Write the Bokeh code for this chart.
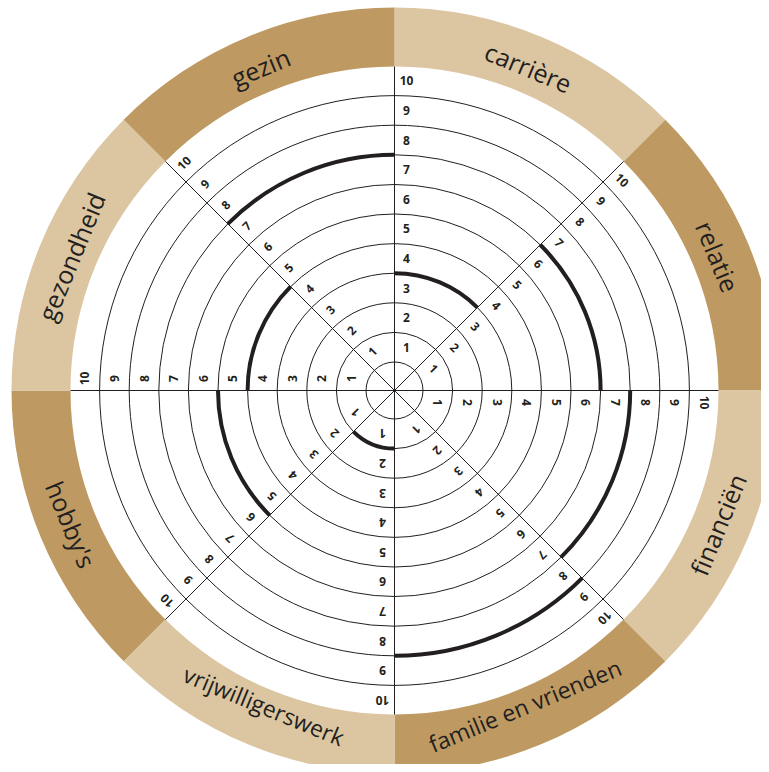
import numpy as np
from bokeh.plotting import figure
from bokeh.models import ColumnDataSource, Range1d
from bokeh.core.properties import value
from bokeh.embed import file_html
from bokeh.resources import INLINE

# ---- data ----
categories = ["carrière", "relatie", "financiën", "familie en vrienden",
              "vrijwilligerswerk", "hobby's", "gezondheid", "gezin"]
# sector start angles (degrees, counter-clockwise from +x), each sector spans 45 degrees
sector_start = [45, 0, -45, -90, -135, -180, 135, 90]
scores = [3, 6, 7, 8, 1, 5, 4, 7]
band_colors = ["#DCC6A2", "#BE9A62", "#DCC6A2", "#BE9A62",
               "#DCC6A2", "#BE9A62", "#DCC6A2", "#BE9A62"]
scale_labels = ["1", "2", "3", "4", "5", "6", "7", "8", "9", "10"]
axis_angles = [0, 45, 90, 135, 180, 225, 270, 315]

# ---- geometry ----
R0 = 28.5      # innermost circle
STEP = 29.6    # ring width
R_IN = 324     # inner radius of coloured band
R_OUT = 383    # outer radius of coloured band
INK = "#231F20"
CX, CY = 394, 390   # centre in picture pixels

W, H = 761, 764
p = figure(width=W, height=H, output_backend="svg", toolbar_location=None,
           x_range=Range1d(-CX, W - CX), y_range=Range1d(CY - H, CY),
           x_axis_location=None, y_axis_location=None, min_border=0)
p.grid.visible = False
p.outline_line_color = None
p.background_fill_color = "white"

# coloured band
p.annular_wedge(x=0, y=0, inner_radius=R_IN, outer_radius=R_OUT,
                start_angle=[np.radians(s) for s in sector_start],
                end_angle=[np.radians(s + 45) for s in sector_start],
                fill_color=band_colors, line_color=None)

# concentric circles
ring_r = [R0 + STEP * k for k in range(10)]
p.arc(x=0, y=0, radius=ring_r, start_angle=0, end_angle=2 * np.pi,
      line_color=INK, line_width=1)

# axis spokes
ang = np.radians(axis_angles)
p.segment(x0=0, y0=0, x1=R_IN * np.cos(ang), y1=R_IN * np.sin(ang),
          line_color=INK, line_width=1)

# scale numbers along each spoke
lx, ly, lt, la = [], [], [], []
for a in axis_angles:
    t = np.radians(a)
    for k, lab in enumerate(scale_labels, start=1):
        r = R0 + STEP * k - STEP / 2
        off = 12
        lx.append(r * np.cos(t) + off * np.sin(t))
        ly.append(r * np.sin(t) - off * np.cos(t))
        lt.append(lab)
        la.append(t - np.pi / 2)
p.text(x="x", y="y", text="t", angle="a",
       source=ColumnDataSource(dict(x=lx, y=ly, t=lt, a=la)),
       text_font=value("Open Sans"), text_font_style="bold",
       text_font_size="12px", text_color=INK,
       text_align="center", text_baseline="middle")

# score arcs
p.arc(x=0, y=0, radius=[R0 + STEP * s for s in scores],
      start_angle=[np.radians(s) for s in sector_start],
      end_angle=[np.radians(s + 45) for s in sector_start],
      line_color=INK, line_width=4)

# category names in band (long names sit a bit inward so the chord stays in the band)
cx, cy, ca, cs = [], [], [], []
for s, name in zip(sector_start, categories):
    mid = s + 22.5
    t = np.radians(mid)
    long_name = len(name) > 12
    rr = 341 if long_name else 350
    cx.append(rr * np.cos(t))
    cy.append(rr * np.sin(t))
    cs.append("23px" if long_name else "25px")
    if 0 < mid < 180:
        ca.append(t - np.pi / 2)
    else:
        ca.append(t + np.pi / 2)
p.text(x="x", y="y", text="t", angle="a", text_font_size="fs",
       source=ColumnDataSource(dict(x=cx, y=cy, t=categories, a=ca, fs=cs)),
       text_font=value("Open Sans"), text_color=INK,
       text_align="center", text_baseline="middle")

open("out.html", "w").write(file_html(p, INLINE))
